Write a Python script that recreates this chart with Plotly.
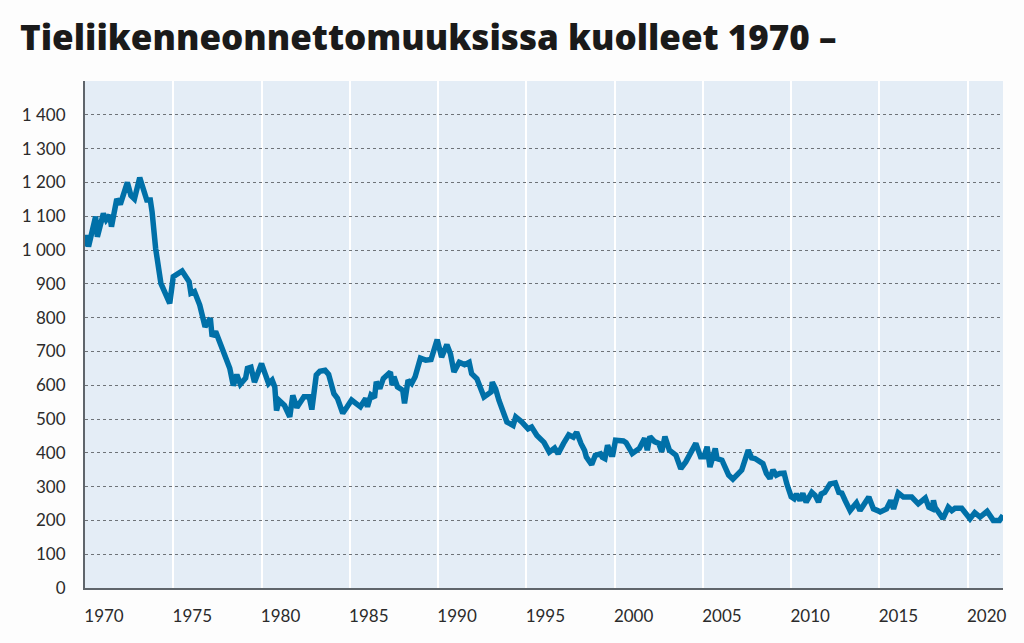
import plotly.graph_objects as go

# Data (rolling deaths, approx. quarterly)
years = [
    1970.0, 1970.1, 1970.2, 1970.6, 1970.7, 1971.04, 1971.2, 1971.4, 1971.5, 1971.8,
    1972.0, 1972.4, 1972.6, 1972.8, 1973.1, 1973.5, 1973.7, 1973.8, 1974.0, 1974.15,
    1974.3, 1974.8, 1975.0, 1975.5, 1975.9, 1976.0, 1976.2, 1976.5, 1976.8, 1977.1,
    1977.2, 1977.4, 1978.0, 1978.2, 1978.4, 1978.6, 1978.8, 1979.1, 1979.2, 1979.4,
    1979.6, 1980.0, 1980.2, 1980.4, 1980.6, 1980.75, 1980.85, 1981.0, 1981.3, 1981.6,
    1981.77, 1982.0, 1982.4, 1982.7, 1982.85, 1983.1, 1983.3, 1983.6, 1983.8, 1984.1,
    1984.3, 1984.6, 1984.85, 1985.1, 1985.6, 1985.9, 1986.0, 1986.2, 1986.4, 1986.5,
    1986.7, 1986.9, 1987.3, 1987.4, 1987.5, 1987.7, 1988.0, 1988.1, 1988.3, 1988.5,
    1988.7, 1989.0, 1989.3, 1989.6, 1989.95, 1990.2, 1990.5, 1990.7, 1990.9, 1991.2,
    1991.5, 1991.76, 1991.9, 1992.2, 1992.6, 1992.8, 1993.0, 1993.07, 1993.26, 1993.45,
    1993.6, 1993.9, 1994.25, 1994.4, 1994.75, 1995.1, 1995.3, 1995.6, 1996.0, 1996.3,
    1996.6, 1996.8, 1997.1, 1997.4, 1997.66, 1997.85, 1998.1, 1998.3, 1998.4, 1998.7,
    1998.9, 1999.2, 1999.3, 1999.45, 1999.6, 1999.8, 1999.9, 2000.05, 2000.5, 2000.65,
    2001.0, 2001.4, 2001.7, 2001.85, 2002.0, 2002.26, 2002.5, 2002.67, 2002.85, 2003.1,
    2003.47, 2003.75, 2004.03, 2004.2, 2004.6, 2004.87, 2005.06, 2005.24, 2005.4, 2005.7,
    2005.8, 2006.08, 2006.46, 2006.7, 2006.9, 2007.2, 2007.57, 2007.76, 2007.95, 2008.2,
    2008.4, 2008.6, 2008.8, 2008.97, 2009.16, 2009.35, 2009.6, 2009.75, 2010.0, 2010.17,
    2010.3, 2010.5, 2010.66, 2010.85, 2011.17, 2011.36, 2011.55, 2011.7, 2011.9, 2012.2,
    2012.5, 2012.7, 2012.87, 2013.06, 2013.34, 2013.7, 2013.9, 2014.4, 2014.66, 2014.9,
    2015.04, 2015.4, 2015.64, 2015.8, 2016.07, 2016.36, 2016.83, 2017.2, 2017.6, 2017.8,
    2018.0, 2018.06, 2018.15, 2018.6, 2018.9, 2019.1, 2019.28, 2019.66, 2020.13, 2020.4,
    2020.7, 2021.1, 2021.45, 2021.8, 2022.0,
]
deaths = [
    1010, 1044, 1010, 1099, 1039, 1108, 1089, 1103, 1069, 1151,
    1135, 1200, 1161, 1151, 1214, 1148, 1148, 1113, 1005, 936,
    901, 842, 921, 938, 906, 872, 877, 837, 773, 798,
    744, 759, 670, 650, 599, 631, 603, 621, 650, 653,
    609, 664, 634, 605, 615, 595, 525, 555, 540, 506,
    570, 534, 566, 566, 528, 630, 641, 644, 632, 575,
    561, 517, 536, 556, 536, 561, 536, 571, 563, 610,
    590, 620, 639, 600, 625, 595, 585, 546, 615, 605,
    625, 680, 674, 676, 735, 683, 720, 693, 639, 668,
    661, 668, 634, 619, 565, 575, 580, 609, 589, 555,
    535, 491, 481, 506, 491, 471, 476, 451, 431, 402,
    414, 397, 427, 453, 446, 461, 427, 407, 387, 365,
    392, 397, 387, 383, 422, 395, 395, 437, 435, 430,
    398, 413, 443, 408, 448, 433, 428, 403, 448, 408,
    393, 353, 373, 388, 428, 388, 388, 418, 358, 413,
    383, 378, 334, 322, 332, 349, 408, 385, 383, 373,
    368, 339, 324, 349, 334, 339, 340, 309, 270, 264,
    278, 259, 280, 254, 283, 274, 254, 278, 283, 308,
    311, 283, 281, 259, 229, 252, 229, 269, 234, 229,
    225, 234, 259, 234, 281, 269, 269, 249, 266, 239,
    234, 259, 239, 205, 239, 229, 236, 236, 205, 223,
    210, 227, 200, 200, 215,
]

y_tick_vals = [0, 100, 200, 300, 400, 500, 600, 700, 800, 900, 1000, 1100, 1200, 1300, 1400]
y_tick_text = ["0", "100", "200", "300", "400", "500", "600", "700", "800", "900",
               "1 000", "1 100", "1 200", "1 300", "1 400"]
x_tick_vals = [1970, 1975, 1980, 1985, 1990, 1995, 2000, 2005, 2010, 2015, 2020]
x_tick_text = [str(v) for v in x_tick_vals]

title_text = "Tieliikenneonnettomuuksissa kuolleet 1970 –"

fig = go.Figure()
fig.add_trace(go.Scatter(
    x=years, y=deaths, mode="lines",
    line=dict(color="#0070a8", width=5.5, shape="linear"),
    hoverinfo="skip", showlegend=False,
))

fig.update_layout(
    width=1024, height=643,
    margin=dict(l=85, r=21, t=81, b=55),
    paper_bgcolor="#fdfdfd",
    plot_bgcolor="#e4edf6",
    title=dict(
        text=title_text,
        x=20 / 1024, xref="container", xanchor="left",
        y=1 - 38 / 643, yref="container", yanchor="middle",
        font=dict(family="Open Sans", size=35, color="#1a1a1a", weight=800),
    ),
    xaxis=dict(
        range=[1970, 2022],
        tickmode="array", tickvals=x_tick_vals, ticktext=x_tick_text,
        showgrid=True, gridcolor="#ffffff", gridwidth=1.5,
        showline=True, linecolor="#5f656b", linewidth=2,
        ticks="", zeroline=False,
        ticklabelshift=19, ticklabelstandoff=12,
        tickfont=dict(family="Lato", size=17, color="#2b2b2b"),
    ),
    yaxis=dict(
        range=[0, 1500],
        tickmode="array", tickvals=y_tick_vals, ticktext=y_tick_text,
        showgrid=True, gridcolor="#6e7378", gridwidth=1, griddash="dot",
        showline=True, linecolor="#5f656b", linewidth=2,
        ticks="", zeroline=False,
        ticklabelstandoff=14,
        tickfont=dict(family="Lato", size=17, color="#2b2b2b"),
    ),
)

fig.write_html("out.html", config={"displayModeBar": False},
               post_script="document.body.style.margin='0';")
